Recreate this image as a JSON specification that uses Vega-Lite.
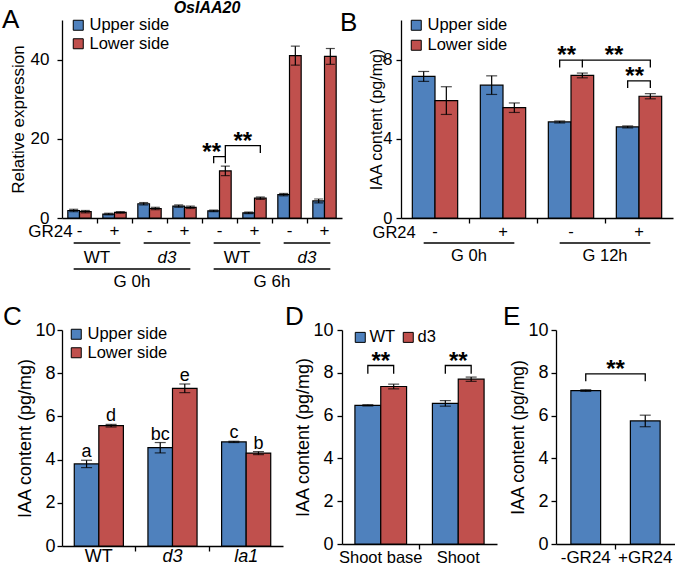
{
"$schema": "https://vega.github.io/schema/vega-lite/v6.json",
"padding": {"left": 2, "top": 0, "right": 0, "bottom": 0},
"background": "white",
"spacing": 14,
"config": {
 "view": {"stroke": null},
 "font": "Liberation Sans",
 "axis": {"domainColor": "black", "domainWidth": 1.3, "tickColor": "black", "tickWidth": 1.3, "labelColor": "black", "titleColor": "black", "grid": false, "labelFont": "Liberation Sans", "titleFont": "Liberation Sans", "titleFontWeight": "normal", "tickSize": 5, "labelOverlap": false},
 "legend": {"symbolType": "square", "symbolStrokeColor": "black", "symbolStrokeWidth": 1, "symbolSize": 100, "labelFont": "Liberation Sans", "labelColor": "black", "padding": 0, "labelOffset": 3, "symbolOpacity": 1},
 "title": {"font": "Liberation Sans", "fontWeight": "normal", "fontSize": 26, "anchor": "start", "frame": "group", "color": "black", "offset": 0},
 "text": {"font": "Liberation Sans", "color": "black"}
},
"resolve": {"scale": {"color": "independent", "x": "independent", "y": "independent"}, "legend": {"color": "independent"}, "axis": {"x": "independent", "y": "independent"}},
"datasets": {
 "A": [
  {"x": "1U", "s": "Upper side", "v": 1.9, "lo": 1.6, "hi": 2.2},
  {"x": "1L", "s": "Lower side", "v": 1.6, "lo": 1.3, "hi": 1.9},
  {"x": "2U", "s": "Upper side", "v": 1.0, "lo": 0.8, "hi": 1.2},
  {"x": "2L", "s": "Lower side", "v": 1.4, "lo": 1.2, "hi": 1.6},
  {"x": "3U", "s": "Upper side", "v": 3.6, "lo": 3.3, "hi": 3.9},
  {"x": "3L", "s": "Lower side", "v": 2.4, "lo": 2.1, "hi": 2.7},
  {"x": "4U", "s": "Upper side", "v": 3.0, "lo": 2.7, "hi": 3.3},
  {"x": "4L", "s": "Lower side", "v": 2.7, "lo": 2.4, "hi": 3.0},
  {"x": "5U", "s": "Upper side", "v": 1.8, "lo": 1.6, "hi": 2.0},
  {"x": "5L", "s": "Lower side", "v": 11.9, "lo": 10.7, "hi": 13.1},
  {"x": "6U", "s": "Upper side", "v": 1.3, "lo": 1.1, "hi": 1.5},
  {"x": "6L", "s": "Lower side", "v": 5.0, "lo": 4.7, "hi": 5.3},
  {"x": "7U", "s": "Upper side", "v": 5.9, "lo": 5.6, "hi": 6.2},
  {"x": "7L", "s": "Lower side", "v": 41.0, "lo": 38.6, "hi": 43.4},
  {"x": "8U", "s": "Upper side", "v": 4.3, "lo": 3.8, "hi": 4.8},
  {"x": "8L", "s": "Lower side", "v": 40.8, "lo": 38.8, "hi": 42.8}
 ],
 "B": [
  {"x": "1U", "s": "Upper side", "v": 7.15, "lo": 6.9, "hi": 7.4},
  {"x": "1L", "s": "Lower side", "v": 5.93, "lo": 5.23, "hi": 6.63},
  {"x": "2U", "s": "Upper side", "v": 6.71, "lo": 6.24, "hi": 7.18},
  {"x": "2L", "s": "Lower side", "v": 5.57, "lo": 5.33, "hi": 5.81},
  {"x": "3U", "s": "Upper side", "v": 4.85, "lo": 4.8, "hi": 4.9},
  {"x": "3L", "s": "Lower side", "v": 7.2, "lo": 7.08, "hi": 7.32},
  {"x": "4U", "s": "Upper side", "v": 4.6, "lo": 4.55, "hi": 4.65},
  {"x": "4L", "s": "Lower side", "v": 6.15, "lo": 6.02, "hi": 6.28}
 ],
 "C": [
  {"x": "1U", "s": "Upper side", "v": 3.8, "lo": 3.63, "hi": 3.97, "lab": "a"},
  {"x": "1L", "s": "Lower side", "v": 5.57, "lo": 5.51, "hi": 5.63, "lab": "d"},
  {"x": "2U", "s": "Upper side", "v": 4.55, "lo": 4.31, "hi": 4.79, "lab": "bc"},
  {"x": "2L", "s": "Lower side", "v": 7.3, "lo": 7.1, "hi": 7.5, "lab": "e"},
  {"x": "3U", "s": "Upper side", "v": 4.82, "lo": 4.79, "hi": 4.85, "lab": "c"},
  {"x": "3L", "s": "Lower side", "v": 4.3, "lo": 4.23, "hi": 4.37, "lab": "b"}
 ],
 "D": [
  {"x": "1W", "s": "WT", "v": 6.48, "lo": 6.45, "hi": 6.51},
  {"x": "1D", "s": "d3", "v": 7.36, "lo": 7.25, "hi": 7.47},
  {"x": "2W", "s": "WT", "v": 6.57, "lo": 6.44, "hi": 6.7},
  {"x": "2D", "s": "d3", "v": 7.7, "lo": 7.6, "hi": 7.8}
 ],
 "E": [
  {"x": "m", "v": 7.17, "lo": 7.13, "hi": 7.21},
  {"x": "p", "v": 5.75, "lo": 5.48, "hi": 6.02}
 ]
},
"vconcat": [
 {
  "bounds": "flush", "spacing": 59,
  "resolve": {"scale": {"color": "independent", "x": "independent", "y": "independent"}, "legend": {"color": "independent"}, "axis": {"x": "independent", "y": "independent"}},
  "hconcat": [
   {
    "width": 280, "height": 198,
    "title": {"text": "A", "dx": -60, "dy": 37},
    "layer": [
     {"data": {"name": "A"}, "mark": {"type": "bar", "stroke": "black", "strokeWidth": 1.2},
      "encoding": {
       "x": {"field": "x", "type": "nominal", "title": null, "scale": {"domain": ["1U","1L","1s","2U","2L","2s","3U","3L","3s","4U","4L","4s","5U","5L","5s","6U","6L","6s","7U","7L","7s","8U","8L"], "paddingInner": 0, "paddingOuter": 0.5}, "axis": {"values": ["1s","2s","3s","4s","5s","6s","7s"], "labels": false}},
       "y": {"field": "v", "type": "quantitative", "scale": {"domain": [0, 50], "nice": false}, "axis": {"title": "Relative expression", "values": [0, 10, 20, 30, 40, 50], "labelOverlap": false, "labelFontSize": 17, "titleFontSize": 17, "labelPadding": 8, "titlePadding": 3}},
       "color": {"field": "s", "type": "nominal", "scale": {"domain": ["Upper side", "Lower side"], "range": ["#4F81BD", "#C0504D"]}, "legend": {"title": null, "orient": "none", "legendX": 8, "legendY": -3, "labelFontSize": 16.5, "rowPadding": 1.5}}
      }},
     {"data": {"name": "A"}, "mark": {"type": "rule", "color": "black", "strokeWidth": 1.2},
      "encoding": {"x": {"field": "x", "type": "nominal", "title": null}, "y": {"field": "lo", "type": "quantitative"}, "y2": {"field": "hi"}}},
     {"data": {"name": "A"}, "mark": {"type": "tick", "color": "black", "thickness": 1.2, "size": 9},
      "encoding": {"x": {"field": "x", "type": "nominal", "title": null}, "y": {"field": "lo", "type": "quantitative"}}},
     {"data": {"name": "A"}, "mark": {"type": "tick", "color": "black", "thickness": 1.2, "size": 9},
      "encoding": {"x": {"field": "x", "type": "nominal", "title": null}, "y": {"field": "hi", "type": "quantitative"}}},
     {"data": {"values": [{"t": "-", "x": "1U"}, {"t": "+", "x": "2U"}, {"t": "-", "x": "3U"}, {"t": "+", "x": "4U"}, {"t": "-", "x": "5U"}, {"t": "+", "x": "6U"}, {"t": "-", "x": "7U"}, {"t": "+", "x": "8U"}]},
      "mark": {"type": "text", "baseline": "middle", "dx": 5.8, "dy": 13, "fontSize": 17},
      "encoding": {"x": {"field": "x", "type": "nominal", "title": null}, "y": {"datum": 0, "type": "quantitative"}, "text": {"field": "t"}}},
     {"data": {"values": [{"t": "GR24", "x": "1U"}]}, "mark": {"type": "text", "align": "right", "baseline": "middle", "dx": -1, "dy": 14, "fontSize": 17},
      "encoding": {"x": {"field": "x", "type": "nominal", "title": null}, "y": {"datum": 0, "type": "quantitative"}, "text": {"field": "t"}}},
     {"data": {"values": [{"t": "WT", "x": "1s"}, {"t": "WT", "x": "5s"}]}, "mark": {"type": "text", "baseline": "middle", "dy": 40, "fontSize": 17},
      "encoding": {"x": {"field": "x", "type": "nominal", "title": null}, "y": {"datum": 0, "type": "quantitative"}, "text": {"field": "t"}}},
     {"data": {"values": [{"t": "d3", "x": "3s"}, {"t": "d3", "x": "7s"}]}, "mark": {"type": "text", "baseline": "middle", "dy": 40, "fontSize": 17, "fontStyle": "italic"},
      "encoding": {"x": {"field": "x", "type": "nominal", "title": null}, "y": {"datum": 0, "type": "quantitative"}, "text": {"field": "t"}}},
     {"data": {"values": [{"t": "G 0h", "x": "2s"}, {"t": "G 6h", "x": "6s"}]}, "mark": {"type": "text", "baseline": "middle", "dy": 64, "fontSize": 17},
      "encoding": {"x": {"field": "x", "type": "nominal", "title": null}, "y": {"datum": 0, "type": "quantitative"}, "text": {"field": "t"}}},
     {"data": {"values": [{"b": 1, "x": "1U"}, {"b": 1, "x": "2L"}, {"b": 2, "x": "3U"}, {"b": 2, "x": "4L"}, {"b": 3, "x": "5U"}, {"b": 3, "x": "6L"}, {"b": 4, "x": "7U"}, {"b": 4, "x": "8L"}]},
      "mark": {"type": "line", "color": "black", "strokeWidth": 1.3, "yOffset": 25},
      "encoding": {"x": {"field": "x", "type": "nominal", "title": null}, "y": {"datum": 0, "type": "quantitative"}, "detail": {"field": "b", "type": "nominal"}}},
     {"data": {"values": [{"b": 1, "x": "1U"}, {"b": 1, "x": "4L"}, {"b": 2, "x": "5U"}, {"b": 2, "x": "8L"}]},
      "mark": {"type": "line", "color": "black", "strokeWidth": 1.3, "yOffset": 51},
      "encoding": {"x": {"field": "x", "type": "nominal", "title": null}, "y": {"datum": 0, "type": "quantitative"}, "detail": {"field": "b", "type": "nominal"}}},
     {"data": {"values": [
       {"b": 1, "o": 1, "x": "5U", "y": 13.8}, {"b": 1, "o": 2, "x": "5U", "y": 15.5}, {"b": 1, "o": 3, "x": "5L", "y": 15.5}, {"b": 1, "o": 4, "x": "5L", "y": 13.8},
       {"b": 2, "o": 1, "x": "5L", "y": 15.5}, {"b": 2, "o": 2, "x": "5L", "y": 18.3}, {"b": 2, "o": 3, "x": "6L", "y": 18.3}, {"b": 2, "o": 4, "x": "6L", "y": 16.4}]},
      "mark": {"type": "line", "color": "black", "strokeWidth": 1.3},
      "encoding": {"x": {"field": "x", "type": "nominal", "title": null}, "y": {"field": "y", "type": "quantitative"}, "detail": {"field": "b", "type": "nominal"}, "order": {"field": "o", "type": "quantitative"}}},
     {"data": {"values": [{"x": "5U", "y": 15.5, "t": "**"}]}, "mark": {"type": "text", "baseline": "middle", "dy": -4, "dx": -2, "fontSize": 24, "fontWeight": "bold"},
      "encoding": {"x": {"field": "x", "type": "nominal", "title": null}, "y": {"field": "y", "type": "quantitative"}, "text": {"field": "t"}}},
     {"data": {"values": [{"x": "5s", "y": 18.3, "t": "**"}]}, "mark": {"type": "text", "baseline": "middle", "dy": -4, "dx": 5.8, "fontSize": 24, "fontWeight": "bold"},
      "encoding": {"x": {"field": "x", "type": "nominal", "title": null}, "y": {"field": "y", "type": "quantitative"}, "text": {"field": "t"}}},
     {"data": {"values": [{"x": "4s", "t": "OsIAA20"}]}, "mark": {"type": "text", "baseline": "middle", "dy": -12, "dx": 5, "fontSize": 16, "fontWeight": "bold", "fontStyle": "italic"},
      "encoding": {"x": {"field": "x", "type": "nominal", "title": null}, "y": {"datum": 50, "type": "quantitative"}, "text": {"field": "t"}}}
    ]
   },
   {
    "width": 272, "height": 198,
    "title": {"text": "B", "dx": -61, "dy": 23},
    "layer": [
     {"data": {"name": "B"}, "mark": {"type": "bar", "stroke": "black", "strokeWidth": 1.2},
      "encoding": {
       "x": {"field": "x", "type": "nominal", "title": null, "scale": {"domain": ["1U","1L","1s","2U","2L","2s","3U","3L","3s","4U","4L"], "paddingInner": 0, "paddingOuter": 0.5}, "axis": {"values": ["1s","2s","3s"], "labels": false}},
       "y": {"field": "v", "type": "quantitative", "scale": {"domain": [0, 10], "nice": false}, "axis": {"title": "IAA content (pg/mg)", "values": [0, 2, 4, 6, 8, 10], "labelOverlap": false, "labelFontSize": 16.5, "titleFontSize": 16, "labelPadding": 4, "titlePadding": -2}},
       "color": {"field": "s", "type": "nominal", "scale": {"domain": ["Upper side", "Lower side"], "range": ["#4F81BD", "#C0504D"]}, "legend": {"title": null, "orient": "none", "legendX": 7, "legendY": -3, "labelFontSize": 16.5, "rowPadding": 3}}
      }},
     {"data": {"name": "B"}, "mark": {"type": "rule", "color": "black", "strokeWidth": 1.2},
      "encoding": {"x": {"field": "x", "type": "nominal", "title": null}, "y": {"field": "lo", "type": "quantitative"}, "y2": {"field": "hi"}}},
     {"data": {"name": "B"}, "mark": {"type": "tick", "color": "black", "thickness": 1.2, "size": 11},
      "encoding": {"x": {"field": "x", "type": "nominal", "title": null}, "y": {"field": "lo", "type": "quantitative"}}},
     {"data": {"name": "B"}, "mark": {"type": "tick", "color": "black", "thickness": 1.2, "size": 11},
      "encoding": {"x": {"field": "x", "type": "nominal", "title": null}, "y": {"field": "hi", "type": "quantitative"}}},
     {"data": {"values": [{"t": "-", "x": "1U"}, {"t": "+", "x": "2U"}, {"t": "-", "x": "3U"}, {"t": "+", "x": "4U"}]},
      "mark": {"type": "text", "baseline": "middle", "dx": 11.3, "dy": 14, "fontSize": 16.5},
      "encoding": {"x": {"field": "x", "type": "nominal", "title": null}, "y": {"datum": 0, "type": "quantitative"}, "text": {"field": "t"}}},
     {"data": {"values": [{"t": "GR24", "x": "1U"}]}, "mark": {"type": "text", "align": "right", "baseline": "middle", "dx": -8, "dy": 15, "fontSize": 16.5},
      "encoding": {"x": {"field": "x", "type": "nominal", "title": null}, "y": {"datum": 0, "type": "quantitative"}, "text": {"field": "t"}}},
     {"data": {"values": [{"t": "G 0h", "x": "1s"}, {"t": "G 12h", "x": "3s"}]}, "mark": {"type": "text", "baseline": "middle", "dy": 38, "fontSize": 16.5},
      "encoding": {"x": {"field": "x", "type": "nominal", "title": null}, "y": {"datum": 0, "type": "quantitative"}, "text": {"field": "t"}}},
     {"data": {"values": [{"b": 1, "x": "1U"}, {"b": 1, "x": "2L"}, {"b": 2, "x": "3U"}, {"b": 2, "x": "4L"}]},
      "mark": {"type": "line", "color": "black", "strokeWidth": 1.3, "yOffset": 25},
      "encoding": {"x": {"field": "x", "type": "nominal", "title": null}, "y": {"datum": 0, "type": "quantitative"}, "detail": {"field": "b", "type": "nominal"}}},
     {"data": {"values": [
       {"b": 1, "o": 1, "x": "3U", "y": 7.6}, {"b": 1, "o": 2, "x": "3U", "y": 7.97}, {"b": 1, "o": 3, "x": "3L", "y": 7.97}, {"b": 1, "o": 4, "x": "3L", "y": 7.6},
       {"b": 2, "o": 1, "x": "3L", "y": 7.97}, {"b": 2, "o": 2, "x": "4L", "y": 7.97}, {"b": 2, "o": 3, "x": "4L", "y": 7.6},
       {"b": 3, "o": 1, "x": "4U", "y": 6.56}, {"b": 3, "o": 2, "x": "4U", "y": 6.93}, {"b": 3, "o": 3, "x": "4L", "y": 6.93}, {"b": 3, "o": 4, "x": "4L", "y": 6.56}]},
      "mark": {"type": "line", "color": "black", "strokeWidth": 1.3},
      "encoding": {"x": {"field": "x", "type": "nominal", "title": null}, "y": {"field": "y", "type": "quantitative"}, "detail": {"field": "b", "type": "nominal"}, "order": {"field": "o", "type": "quantitative"}}},
     {"data": {"values": [{"x": "3U", "y": 7.97, "t": "**"}, {"x": "4U", "y": 6.93, "t": "**"}]}, "mark": {"type": "text", "baseline": "middle", "dy": -4, "dx": 7, "fontSize": 24, "fontWeight": "bold"},
      "encoding": {"x": {"field": "x", "type": "nominal", "title": null}, "y": {"field": "y", "type": "quantitative"}, "text": {"field": "t"}}},
     {"data": {"values": [{"x": "3s", "y": 7.97, "t": "**"}]}, "mark": {"type": "text", "baseline": "middle", "dy": -4, "dx": 9, "fontSize": 24, "fontWeight": "bold"},
      "encoding": {"x": {"field": "x", "type": "nominal", "title": null}, "y": {"field": "y", "type": "quantitative"}, "text": {"field": "t"}}}
    ]
   }
  ]
 },
 {
  "bounds": "flush", "spacing": 59,
  "resolve": {"scale": {"color": "independent", "x": "independent", "y": "independent"}, "legend": {"color": "independent"}, "axis": {"x": "independent", "y": "independent"}},
  "hconcat": [
   {
    "width": 221, "height": 216,
    "title": {"text": "C", "dx": -59, "dy": 13},
    "layer": [
     {"data": {"name": "C"}, "mark": {"type": "bar", "stroke": "black", "strokeWidth": 1.2},
      "encoding": {
       "x": {"field": "x", "type": "nominal", "title": null, "scale": {"domain": ["1U","1L","1s","2U","2L","2s","3U","3L"], "paddingInner": 0, "paddingOuter": 0.5}, "axis": {"values": ["1s","2s"], "labels": false}},
       "y": {"field": "v", "type": "quantitative", "scale": {"domain": [0, 10], "nice": false}, "axis": {"title": "IAA content (pg/mg)", "values": [0, 2, 4, 6, 8, 10], "labelOverlap": false, "labelFontSize": 18, "titleFontSize": 18, "labelPadding": 2, "titlePadding": 0}},
       "color": {"field": "s", "type": "nominal", "scale": {"domain": ["Upper side", "Lower side"], "range": ["#4F81BD", "#C0504D"]}, "legend": {"title": null, "orient": "none", "legendX": 6, "legendY": -4, "labelFontSize": 16.5, "rowPadding": 1.5}}
      }},
     {"data": {"name": "C"}, "mark": {"type": "rule", "color": "black", "strokeWidth": 1.2},
      "encoding": {"x": {"field": "x", "type": "nominal", "title": null}, "y": {"field": "lo", "type": "quantitative"}, "y2": {"field": "hi"}}},
     {"data": {"name": "C"}, "mark": {"type": "tick", "color": "black", "thickness": 1.2, "size": 11},
      "encoding": {"x": {"field": "x", "type": "nominal", "title": null}, "y": {"field": "lo", "type": "quantitative"}}},
     {"data": {"name": "C"}, "mark": {"type": "tick", "color": "black", "thickness": 1.2, "size": 11},
      "encoding": {"x": {"field": "x", "type": "nominal", "title": null}, "y": {"field": "hi", "type": "quantitative"}}},
     {"data": {"name": "C"}, "mark": {"type": "text", "baseline": "alphabetic", "dy": -3, "fontSize": 18},
      "encoding": {"x": {"field": "x", "type": "nominal", "title": null}, "y": {"field": "hi", "type": "quantitative"}, "text": {"field": "lab"}}},
     {"data": {"values": [{"t": "WT", "x": "1U"}]}, "mark": {"type": "text", "baseline": "middle", "dx": 12.3, "dy": 11, "fontSize": 18},
      "encoding": {"x": {"field": "x", "type": "nominal", "title": null}, "y": {"datum": 0, "type": "quantitative"}, "text": {"field": "t"}}},
     {"data": {"values": [{"t": "d3", "x": "2U"}, {"t": "la1", "x": "3U"}]}, "mark": {"type": "text", "baseline": "middle", "dx": 12.3, "dy": 11, "fontSize": 18, "fontStyle": "italic"},
      "encoding": {"x": {"field": "x", "type": "nominal", "title": null}, "y": {"datum": 0, "type": "quantitative"}, "text": {"field": "t"}}}
    ]
   },
   {
    "width": 155, "height": 214,
    "title": {"text": "D", "dx": -57, "dy": 13},
    "layer": [
     {"data": {"name": "D"}, "mark": {"type": "bar", "stroke": "black", "strokeWidth": 1.2},
      "encoding": {
       "x": {"field": "x", "type": "nominal", "title": null, "scale": {"domain": ["1W","1D","1s","2W","2D"], "paddingInner": 0, "paddingOuter": 0.5}, "axis": {"values": ["1s"], "labels": false}},
       "y": {"field": "v", "type": "quantitative", "scale": {"domain": [0, 10], "nice": false}, "axis": {"title": "IAA content (pg/mg)", "values": [0, 2, 4, 6, 8, 10], "labelOverlap": false, "labelFontSize": 18, "titleFontSize": 18, "labelPadding": 4, "titlePadding": 0}},
       "color": {"field": "s", "type": "nominal", "scale": {"domain": ["WT", "d3"], "range": ["#4F81BD", "#C0504D"]}, "legend": {"title": null, "orient": "none", "direction": "horizontal", "legendX": 10, "legendY": -1, "labelFontSize": 16.5, "columnPadding": 4, "labelOffset": 1}}
      }},
     {"data": {"name": "D"}, "mark": {"type": "rule", "color": "black", "strokeWidth": 1.2},
      "encoding": {"x": {"field": "x", "type": "nominal", "title": null}, "y": {"field": "lo", "type": "quantitative"}, "y2": {"field": "hi"}}},
     {"data": {"name": "D"}, "mark": {"type": "tick", "color": "black", "thickness": 1.2, "size": 11},
      "encoding": {"x": {"field": "x", "type": "nominal", "title": null}, "y": {"field": "lo", "type": "quantitative"}}},
     {"data": {"name": "D"}, "mark": {"type": "tick", "color": "black", "thickness": 1.2, "size": 11},
      "encoding": {"x": {"field": "x", "type": "nominal", "title": null}, "y": {"field": "hi", "type": "quantitative"}}},
     {"data": {"values": [{"t": "Shoot base", "x": "1W"}, {"t": "Shoot", "x": "2W"}]}, "mark": {"type": "text", "baseline": "middle", "dx": 12.9, "dy": 14, "fontSize": 16.5},
      "encoding": {"x": {"field": "x", "type": "nominal", "title": null}, "y": {"datum": 0, "type": "quantitative"}, "text": {"field": "t"}}},
     {"data": {"values": [
       {"b": 1, "o": 1, "x": "1W", "y": 7.95}, {"b": 1, "o": 2, "x": "1W", "y": 8.34}, {"b": 1, "o": 3, "x": "1D", "y": 8.34}, {"b": 1, "o": 4, "x": "1D", "y": 7.95},
       {"b": 2, "o": 1, "x": "2W", "y": 7.95}, {"b": 2, "o": 2, "x": "2W", "y": 8.34}, {"b": 2, "o": 3, "x": "2D", "y": 8.34}, {"b": 2, "o": 4, "x": "2D", "y": 7.95}]},
      "mark": {"type": "line", "color": "black", "strokeWidth": 1.3},
      "encoding": {"x": {"field": "x", "type": "nominal", "title": null}, "y": {"field": "y", "type": "quantitative"}, "detail": {"field": "b", "type": "nominal"}, "order": {"field": "o", "type": "quantitative"}}},
     {"data": {"values": [{"x": "1W", "y": 8.34, "t": "**"}, {"x": "2W", "y": 8.34, "t": "**"}]}, "mark": {"type": "text", "baseline": "middle", "dy": -4, "dx": 12.9, "fontSize": 24, "fontWeight": "bold"},
      "encoding": {"x": {"field": "x", "type": "nominal", "title": null}, "y": {"field": "y", "type": "quantitative"}, "text": {"field": "t"}}}
    ]
   },
   {
    "width": 119, "height": 214,
    "title": {"text": "E", "dx": -53, "dy": 13},
    "layer": [
     {"data": {"name": "E"}, "mark": {"type": "bar", "stroke": "black", "strokeWidth": 1.2, "color": "#4F81BD"},
      "encoding": {
       "x": {"field": "x", "type": "nominal", "title": null, "scale": {"domain": ["m", "s", "p"], "paddingInner": 0, "paddingOuter": 0.5}, "axis": {"values": ["s"], "labels": false}},
       "y": {"field": "v", "type": "quantitative", "scale": {"domain": [0, 10], "nice": false}, "axis": {"title": "IAA content (pg/mg)", "values": [0, 2, 4, 6, 8, 10], "labelOverlap": false, "labelFontSize": 18, "titleFontSize": 17.5, "labelPadding": 3, "titlePadding": 0}}
      }},
     {"data": {"name": "E"}, "mark": {"type": "rule", "color": "black", "strokeWidth": 1.2},
      "encoding": {"x": {"field": "x", "type": "nominal", "title": null}, "y": {"field": "lo", "type": "quantitative"}, "y2": {"field": "hi"}}},
     {"data": {"name": "E"}, "mark": {"type": "tick", "color": "black", "thickness": 1.2, "size": 11},
      "encoding": {"x": {"field": "x", "type": "nominal", "title": null}, "y": {"field": "lo", "type": "quantitative"}}},
     {"data": {"name": "E"}, "mark": {"type": "tick", "color": "black", "thickness": 1.2, "size": 11},
      "encoding": {"x": {"field": "x", "type": "nominal", "title": null}, "y": {"field": "hi", "type": "quantitative"}}},
     {"data": {"values": [{"t": "-GR24", "x": "m"}, {"t": "+GR24", "x": "p"}]}, "mark": {"type": "text", "baseline": "middle", "dy": 14, "fontSize": 17},
      "encoding": {"x": {"field": "x", "type": "nominal", "title": null}, "y": {"datum": 0, "type": "quantitative"}, "text": {"field": "t"}}},
     {"data": {"values": [{"b": 1, "o": 1, "x": "m", "y": 7.6}, {"b": 1, "o": 2, "x": "m", "y": 7.95}, {"b": 1, "o": 3, "x": "p", "y": 7.95}, {"b": 1, "o": 4, "x": "p", "y": 7.6}]},
      "mark": {"type": "line", "color": "black", "strokeWidth": 1.3},
      "encoding": {"x": {"field": "x", "type": "nominal", "title": null}, "y": {"field": "y", "type": "quantitative"}, "detail": {"field": "b", "type": "nominal"}, "order": {"field": "o", "type": "quantitative"}}},
     {"data": {"values": [{"x": "s", "y": 7.95, "t": "**"}]}, "mark": {"type": "text", "baseline": "middle", "dy": -4, "fontSize": 24, "fontWeight": "bold"},
      "encoding": {"x": {"field": "x", "type": "nominal", "title": null}, "y": {"field": "y", "type": "quantitative"}, "text": {"field": "t"}}}
    ]
   }
  ]
 }
]
}
